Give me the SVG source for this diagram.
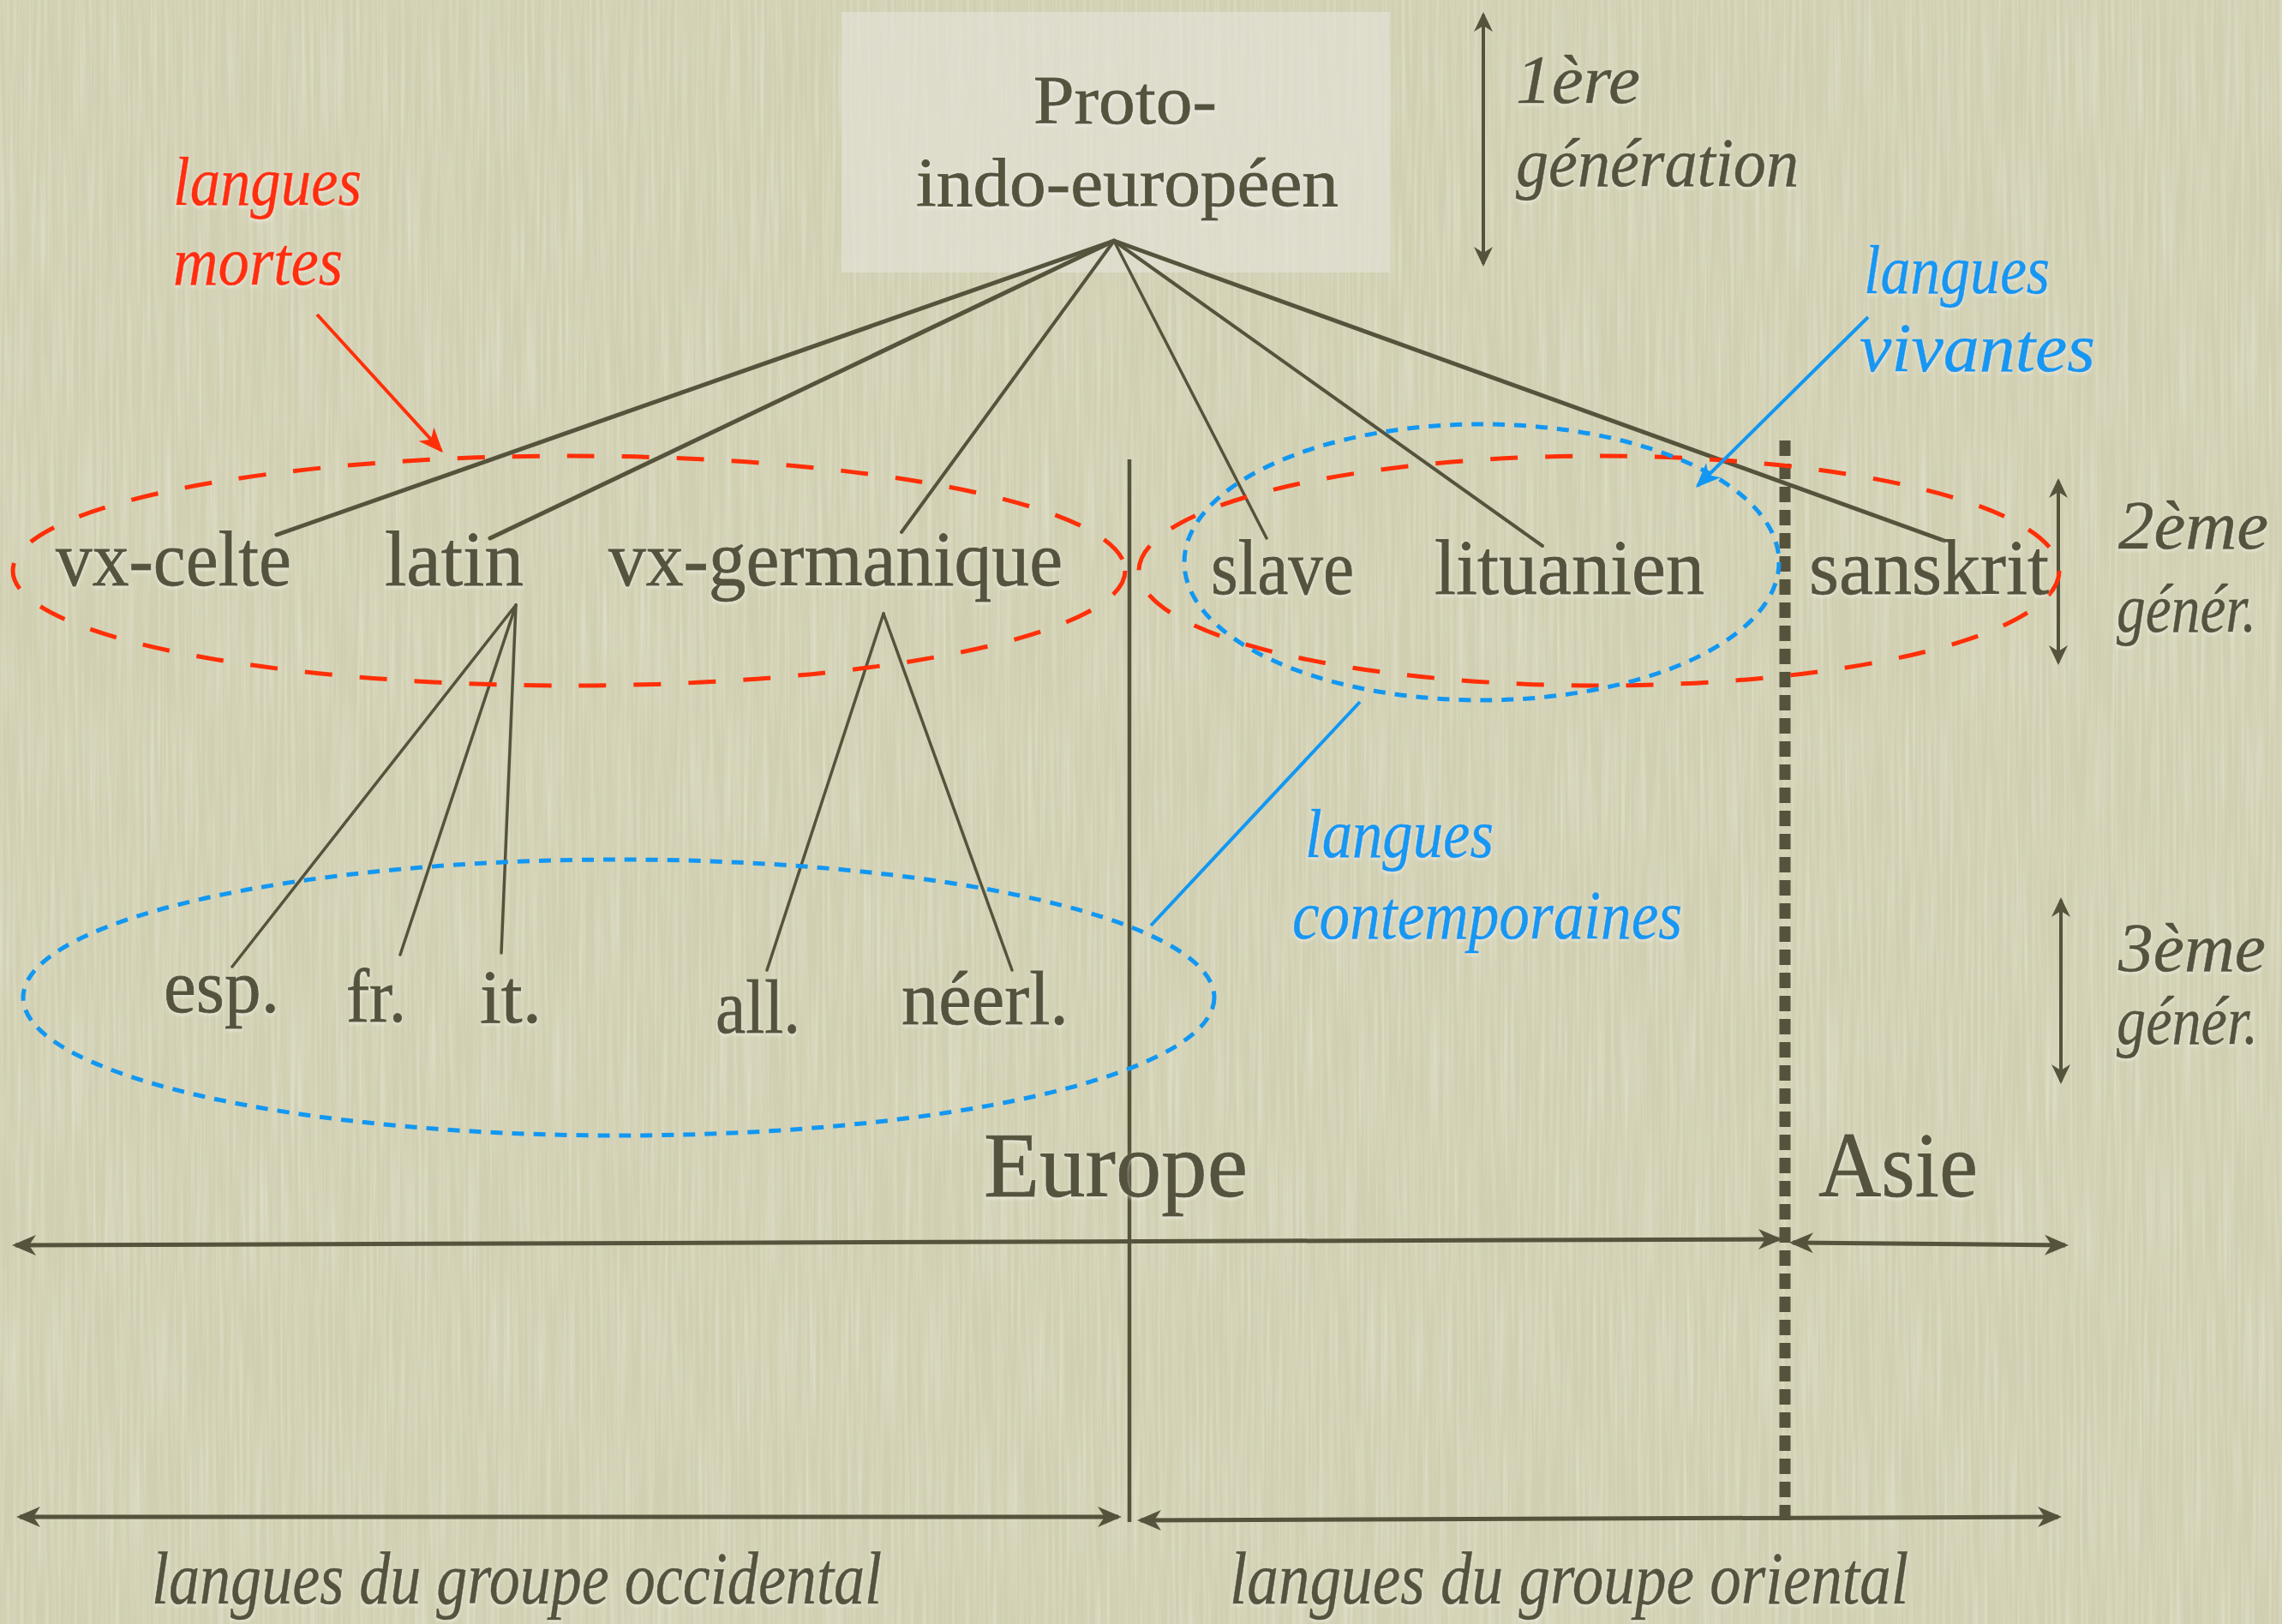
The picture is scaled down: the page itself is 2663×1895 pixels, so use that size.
<svg xmlns="http://www.w3.org/2000/svg" width="2663" height="1895" viewBox="0 0 2663 1895">
<defs>
<style>
.t{font-family:"Liberation Serif","Times New Roman",serif;fill:#55523c;stroke:#55523c;stroke-width:0.8;filter:url(#glow)}
.u{font-size:92px}
.s{font-size:88px}
.big{font-size:108px}
.it{font-family:"Liberation Serif","Times New Roman",serif;font-style:italic;font-size:80px;stroke-width:0.6;filter:url(#glow)}
.dk{fill:#55523c;stroke:#55523c}
.red{fill:#ff2f08;stroke:#ff2f08}
.blue{fill:#1297f2;stroke:#1297f2}
.ln{stroke:#56533d;fill:none;stroke-linecap:round}
.ax{stroke:#56533d;fill:none;stroke-width:5}
.va{stroke:#56533d;fill:none;stroke-width:4}
</style>
<filter id="glow" x="-10%" y="-20%" width="120%" height="140%">
<feDropShadow dx="0" dy="2" stdDeviation="2" flood-color="#ffffff" flood-opacity="0.5"/>
</filter>
<filter id="tex" x="0" y="0" width="100%" height="100%">
<feTurbulence type="fractalNoise" baseFrequency="0.25 0.006" numOctaves="2" seed="3"/>
<feColorMatrix values="0 0 0 0 1  0 0 0 0 1  0 0 0 0 0.95  0.55 0 0 0 -0.2"/>
</filter>
<marker id="ah" markerUnits="userSpaceOnUse" overflow="visible" orient="auto-start-reverse" refX="0" refY="0" markerWidth="30" markerHeight="30">
<path d="M4,0 L-24,-12 L-16,0 L-24,12 Z" fill="#56533d"/>
</marker>
<marker id="av" markerUnits="userSpaceOnUse" overflow="visible" orient="auto-start-reverse" refX="0" refY="0" markerWidth="30" markerHeight="30">
<path d="M3,0 L-20,-11 L-13,0 L-20,11 Z" fill="#56533d"/>
</marker>
<marker id="ar" markerUnits="userSpaceOnUse" overflow="visible" orient="auto" refX="0" refY="0" markerWidth="30" markerHeight="30">
<path d="M3,0 L-26,-12 L-18,0 L-26,12 Z" fill="#ff2f08"/>
</marker>
<marker id="ab" markerUnits="userSpaceOnUse" overflow="visible" orient="auto" refX="0" refY="0" markerWidth="30" markerHeight="30">
<path d="M3,0 L-26,-12 L-18,0 L-26,12 Z" fill="#1297f2"/>
</marker>
</defs>

<rect x="0" y="0" width="2663" height="1895" fill="#d0cfb1"/>
<rect x="0" y="0" width="2663" height="1895" filter="url(#tex)"/>

<g id="node-proto">
<rect x="982" y="14" width="640" height="304" fill="#e2e1d6" opacity="0.7"/>
<text class="t" style="font-size:80px" x="1206" y="144" textLength="214" lengthAdjust="spacingAndGlyphs">Proto-</text>
<text class="t" style="font-size:80px" x="1069" y="240" textLength="493" lengthAdjust="spacingAndGlyphs">indo-européen</text>
</g>

<g id="connectors">
<line class="ln" x1="1300" y1="281" x2="323" y2="624" stroke-width="5"/>
<line class="ln" x1="1300" y1="281" x2="572" y2="628" stroke-width="5"/>
<line class="ln" x1="1300" y1="281" x2="1052" y2="621" stroke-width="4"/>
<line class="ln" x1="1300" y1="281" x2="1478" y2="628" stroke-width="3.5"/>
<line class="ln" x1="1300" y1="281" x2="1800" y2="637" stroke-width="4"/>
<line class="ln" x1="1300" y1="281" x2="2269" y2="631" stroke-width="5"/>
<line class="ln" x1="602" y1="706" x2="271" y2="1128" stroke-width="3.5"/>
<line class="ln" x1="602" y1="706" x2="467" y2="1114" stroke-width="3.5"/>
<line class="ln" x1="602" y1="706" x2="585" y2="1112" stroke-width="3.5"/>
<line class="ln" x1="1031" y1="716" x2="895" y2="1132" stroke-width="3.5"/>
<line class="ln" x1="1031" y1="716" x2="1181" y2="1132" stroke-width="3.5"/>
</g>

<g id="regions">
<line x1="1318" y1="536" x2="1318" y2="1776" stroke="#56533d" stroke-width="4.5"/>
<line x1="2083" y1="514" x2="2083" y2="1780" stroke="#56533d" stroke-width="13" stroke-dasharray="18 9"/>
<line class="ax" x1="18" y1="1453" x2="2076" y2="1446" marker-start="url(#ah)" marker-end="url(#ah)"/>
<line class="ax" x1="2092" y1="1450" x2="2410" y2="1453" marker-start="url(#ah)" marker-end="url(#ah)"/>
<line class="ax" x1="23" y1="1770" x2="1305" y2="1770" marker-start="url(#ah)" marker-end="url(#ah)"/>
<line class="ax" x1="1331" y1="1774" x2="2402" y2="1770" marker-start="url(#ah)" marker-end="url(#ah)"/>
</g>

<g id="gen-arrows">
<line class="va" x1="1731" y1="17" x2="1731" y2="308" marker-start="url(#av)" marker-end="url(#av)"/>
<line class="va" x1="2402" y1="561" x2="2402" y2="773" marker-start="url(#av)" marker-end="url(#av)"/>
<line class="va" x1="2405" y1="1050" x2="2405" y2="1262" marker-start="url(#av)" marker-end="url(#av)"/>
</g>

<g id="ellipses">
<ellipse cx="664" cy="666" rx="649" ry="134" fill="none" stroke="#ff2f08" stroke-width="5" stroke-dasharray="32 32"/>
<ellipse cx="1866" cy="666" rx="537" ry="134" fill="none" stroke="#ff2f08" stroke-width="5" stroke-dasharray="32 32"/>
<ellipse cx="1729" cy="656" rx="347" ry="161" fill="none" stroke="#1297f2" stroke-width="5" stroke-dasharray="14 11"/>
<ellipse cx="722" cy="1164" rx="695" ry="161" fill="none" stroke="#1297f2" stroke-width="5" stroke-dasharray="14 11"/>
</g>

<g id="annotation-arrows">
<line x1="370" y1="367" x2="515" y2="526" stroke="#ff2f08" stroke-width="4" marker-end="url(#ar)"/>
<line x1="2180" y1="370" x2="1981" y2="567" stroke="#1297f2" stroke-width="4" marker-end="url(#ab)"/>
<line x1="1587" y1="819" x2="1343" y2="1080" stroke="#1297f2" stroke-width="4"/>
</g>

<g id="node-vx-celte"><text class="t u" x="65" y="683" textLength="275" lengthAdjust="spacingAndGlyphs">vx-celte</text></g>
<g id="node-latin"><text class="t u" x="449" y="683" textLength="162" lengthAdjust="spacingAndGlyphs">latin</text></g>
<g id="node-vx-germanique"><text class="t u" x="710" y="683" textLength="530" lengthAdjust="spacingAndGlyphs">vx-germanique</text></g>
<g id="node-slave"><text class="t u" x="1413" y="693" textLength="167" lengthAdjust="spacingAndGlyphs">slave</text></g>
<g id="node-lituanien"><text class="t u" x="1674" y="693" textLength="315" lengthAdjust="spacingAndGlyphs">lituanien</text></g>
<g id="node-sanskrit"><text class="t u" x="2111" y="693" textLength="280" lengthAdjust="spacingAndGlyphs">sanskrit</text></g>
<g id="node-esp"><text class="t s" x="191" y="1181" textLength="135" lengthAdjust="spacingAndGlyphs">esp.</text></g>
<g id="node-fr"><text class="t s" x="404" y="1192" textLength="70" lengthAdjust="spacingAndGlyphs">fr.</text></g>
<g id="node-it"><text class="t s" x="560" y="1193" textLength="72" lengthAdjust="spacingAndGlyphs">it.</text></g>
<g id="node-all"><text class="t s" x="835" y="1205" textLength="99" lengthAdjust="spacingAndGlyphs">all.</text></g>
<g id="node-neerl"><text class="t s" x="1052" y="1195" textLength="195" lengthAdjust="spacingAndGlyphs">néerl.</text></g>

<g id="labels-regions">
<text class="t big" x="1148" y="1396" textLength="308" lengthAdjust="spacingAndGlyphs">Europe</text>
<text class="t big" x="2122" y="1396" textLength="186" lengthAdjust="spacingAndGlyphs">Asie</text>
<text class="it dk" style="font-size:86px" x="177" y="1871" textLength="852" lengthAdjust="spacingAndGlyphs">langues du groupe occidental</text>
<text class="it dk" style="font-size:86px" x="1435" y="1871" textLength="792" lengthAdjust="spacingAndGlyphs">langues du groupe oriental</text>
</g>

<g id="labels-generations">
<text class="it dk" x="1769" y="120" textLength="145" lengthAdjust="spacingAndGlyphs">1ère</text>
<text class="it dk" x="1769" y="217" textLength="330" lengthAdjust="spacingAndGlyphs">génération</text>
<text class="it dk" x="2472" y="640" textLength="175" lengthAdjust="spacingAndGlyphs">2ème</text>
<text class="it dk" x="2470" y="737" textLength="163" lengthAdjust="spacingAndGlyphs">génér.</text>
<text class="it dk" x="2472" y="1133" textLength="172" lengthAdjust="spacingAndGlyphs">3ème</text>
<text class="it dk" x="2470" y="1218" textLength="165" lengthAdjust="spacingAndGlyphs">génér.</text>
</g>

<g id="labels-annotations">
<text class="it red" x="202" y="239" textLength="220" lengthAdjust="spacingAndGlyphs">langues</text>
<text class="it red" x="202" y="332" textLength="198" lengthAdjust="spacingAndGlyphs">mortes</text>
<text class="it blue" x="2175" y="342" textLength="217" lengthAdjust="spacingAndGlyphs">langues</text>
<text class="it blue" x="2170" y="433" textLength="275" lengthAdjust="spacingAndGlyphs">vivantes</text>
<text class="it blue" x="1523" y="1000" textLength="220" lengthAdjust="spacingAndGlyphs">langues</text>
<text class="it blue" x="1508" y="1095" textLength="455" lengthAdjust="spacingAndGlyphs">contemporaines</text>
</g>
</svg>
